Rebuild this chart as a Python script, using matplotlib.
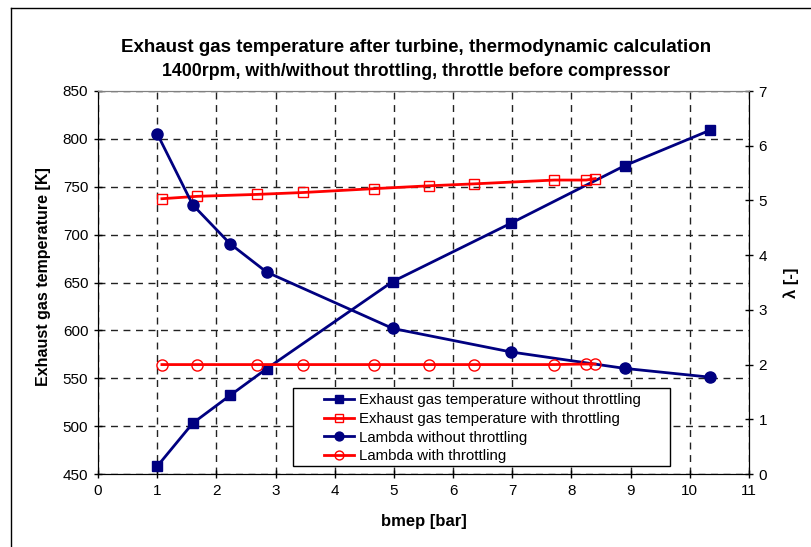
import numpy as np
import matplotlib
matplotlib.use('Agg')
import matplotlib.pyplot as plt
from matplotlib.patches import Rectangle
from matplotlib.lines import Line2D

plt.rcParams['font.family'] = ['Liberation Sans', 'DejaVu Sans']

# data
bmep_nothr   = [1.00, 1.60, 2.23, 2.85, 4.98, 6.98, 8.90, 10.34]
temp_nothr   = [458, 503, 532, 560, 651, 712, 772, 809]
lambda_nothr = [6.22, 4.92, 4.21, 3.69, 2.66, 2.23, 1.93, 1.77]

bmep_thr   = [1.08, 1.68, 2.68, 3.47, 4.66, 5.60, 6.35, 7.71, 8.25, 8.40]
temp_thr   = [737.5, 740, 742, 744, 748, 751, 753, 757, 757, 758.5]
lambda_thr = [2.00, 2.00, 2.00, 2.00, 2.00, 2.00, 2.00, 2.00, 2.01, 2.01]

labels = ['Exhaust gas temperature without throttling',
          'Exhaust gas temperature with throttling',
          'Lambda without throttling',
          'Lambda with throttling']

navy = '#000080'
red  = '#FF0000'
W, H = 811, 547

fig = plt.figure(figsize=(W/100, H/100), dpi=100)

# chart area border (right / bottom fall outside the picture)
fig.add_artist(Line2D([11/W, 11/W], [0, 1 - 8/H], transform=fig.transFigure, color='black', lw=1))
fig.add_artist(Line2D([11/W, 1], [1 - 8/H, 1 - 8/H], transform=fig.transFigure, color='black', lw=1))

ax = fig.add_axes([98/W, (H-474)/H, (749-98)/W, (474-91)/H])
ax2 = ax.twinx()

l1, = ax.plot(bmep_nothr, temp_nothr, color=navy, lw=2, marker='s', ms=6.5, mfc=navy, mec=navy)
l2, = ax.plot(bmep_thr, temp_thr, color=red, lw=2, marker='s', ms=6.5, mfc='none', mec=red, mew=1)
l3, = ax2.plot(bmep_nothr, lambda_nothr, color=navy, lw=2, marker='o', ms=8, mfc=navy, mec=navy)
l4, = ax2.plot(bmep_thr, lambda_thr, color=red, lw=2, marker='o', ms=8, mfc='none', mec=red, mew=1)

ax.set_xlim(0, 11)
ax.set_ylim(450, 850)
ax2.set_ylim(0, 7)
ax.set_xticks(np.arange(0, 12, 1))
ax.set_yticks(np.arange(450, 851, 50))
ax2.set_yticks(np.arange(0, 8, 1))

ax.grid(True, color='#222222', lw=1, linestyle=(0, (5, 4)))
ax.set_axisbelow(True)

for a in (ax, ax2):
    a.spines['top'].set_color('#808080')
    a.spines['left'].set_color('black')
    a.spines['right'].set_color('black')
    a.spines['bottom'].set_color('black')
    a.tick_params(direction='inout', length=6, width=1, labelsize=11, pad=4)

ax.set_xlabel('bmep [bar]', fontsize=12, fontweight='bold', labelpad=12)
ax.set_ylabel('Exhaust gas temperature [K]', fontsize=11.5, fontweight='bold')
ax.yaxis.set_label_coords((51-98)/651, (474-277)/383)
ax2.set_ylabel('λ [-]', fontsize=12, fontweight='bold', labelpad=12, rotation=90)

fig.text(416/W, 1 - 47/H, 'Exhaust gas temperature after turbine, thermodynamic calculation',
         ha='center', va='center', fontsize=13.5, fontweight='bold')
fig.text(416/W, 1 - 72/H, '1400rpm, with/without throttling, throttle before compressor',
         ha='center', va='center', fontsize=12.8, fontweight='bold')

# legend box (Excel style: wide side padding)
x0, x1 = (293-98)/651, (670-98)/651
y0, y1 = (474-466)/383, (474-388)/383
ax2.add_patch(Rectangle((x0, y0), x1-x0, y1-y0, transform=ax2.transAxes,
                        facecolor='white', edgecolor='black', lw=1, zorder=5))
leg = ax2.legend([l1, l2, l3, l4], labels, loc='upper left',
                 bbox_to_anchor=((324-98)/651, (474-393)/383), frameon=False,
                 fontsize=10.8, handlelength=2.0, handletextpad=0.35,
                 labelspacing=0.32, borderpad=0, borderaxespad=0, markerscale=0.8)
leg.set_zorder(6)

fig.savefig('out.png', dpi=100)
